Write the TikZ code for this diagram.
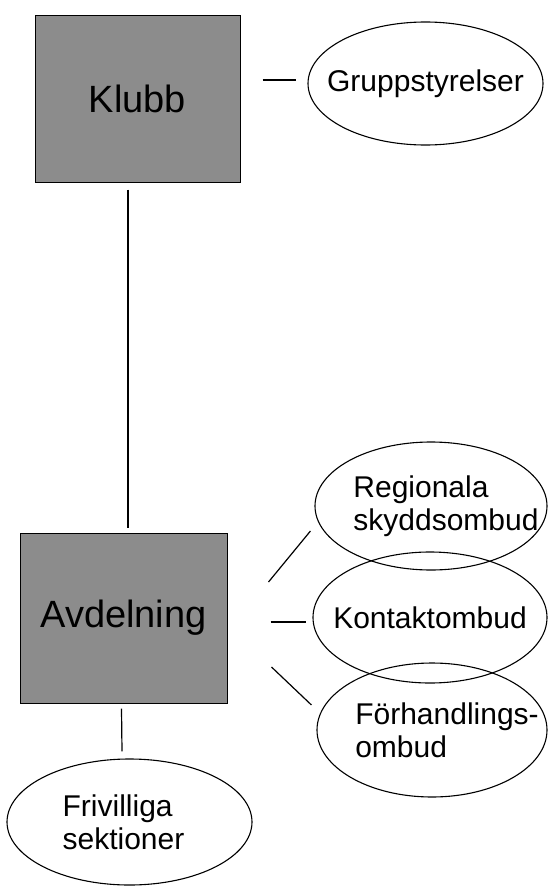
\documentclass[tikz,border=0pt]{standalone}
\usepackage{fontspec}
\setmainfont{Liberation Sans}
\usetikzlibrary{shapes.geometric}

\begin{document}
\begin{tikzpicture}[x=1pt, y=-1pt,
    box/.style={draw, fill=black!45, line width=1, inner sep=0pt,
        font=\fontsize{38}{44}\selectfont},
    oval/.style={draw, ellipse, line width=1.1, inner sep=0pt},
    lbl/.style={align=left, font=\fontsize{30}{33}\selectfont},
    every label/.style={lbl},
    link/.style={line width=1.2}]
    \useasboundingbox (0,0) rectangle (547,886);

    % -------------------------------------------------------------
    % Rutor (Klubb, Avdelning)
    % -------------------------------------------------------------
    \node[box, minimum width=205, minimum height=167] (klubb) at (137.5,98.5) {Klubb};
    \node[box, minimum width=207, minimum height=170] (avd) at (123.5,618) {Avdelning};

    % -------------------------------------------------------------
    % Ovaler
    % -------------------------------------------------------------
    \node[oval, minimum width=235, minimum height=123,
        label=center:Gruppstyrelser] (grupp) at (425.5,83.5) {};
    \node[oval, minimum width=232, minimum height=128,
        label={[xshift=15]center:Regionala\\skyddsombud}] (reg) at (431,506) {};
    \node[oval, minimum width=234, minimum height=131,
        label=center:Kontaktombud] (kont) at (430,617.5) {};
    \node[oval, minimum width=230, minimum height=134,
        label={[xshift=15]center:Förhandlings-\\ombud}] (forh) at (432,730) {};
    \node[oval, minimum width=245, minimum height=126,
        label={[xshift=-6]center:Frivilliga\\sektioner}] (friv) at (129.5,822) {};

    % -------------------------------------------------------------
    % Linjer (med mellanrum till rutor och ovaler)
    % -------------------------------------------------------------
    \draw[link] ([shift={(22,-18.5)}]klubb.east) -- ([shift={(-11,-3.5)}]grupp.west);
    \draw[link] ([shift={(-9.5,7)}]klubb.south) -- ([shift={(4.5,-5)}]avd.north);

    \draw[link] ([shift={(41,-36)}]avd.east) -- ([shift={(-4,25)}]reg.west);
    \draw[link] ([shift={(43,4)}]avd.east) -- ([shift={(-6,4.5)}]kont.west);
    \draw[link] ([shift={(44,49)}]avd.east) -- ([shift={(-5,-25)}]forh.west);

    \draw[link] ([shift={(-2,5)}]avd.south) -- ([shift={(-7.5,-7)}]friv.north);

\end{tikzpicture}
\end{document}
